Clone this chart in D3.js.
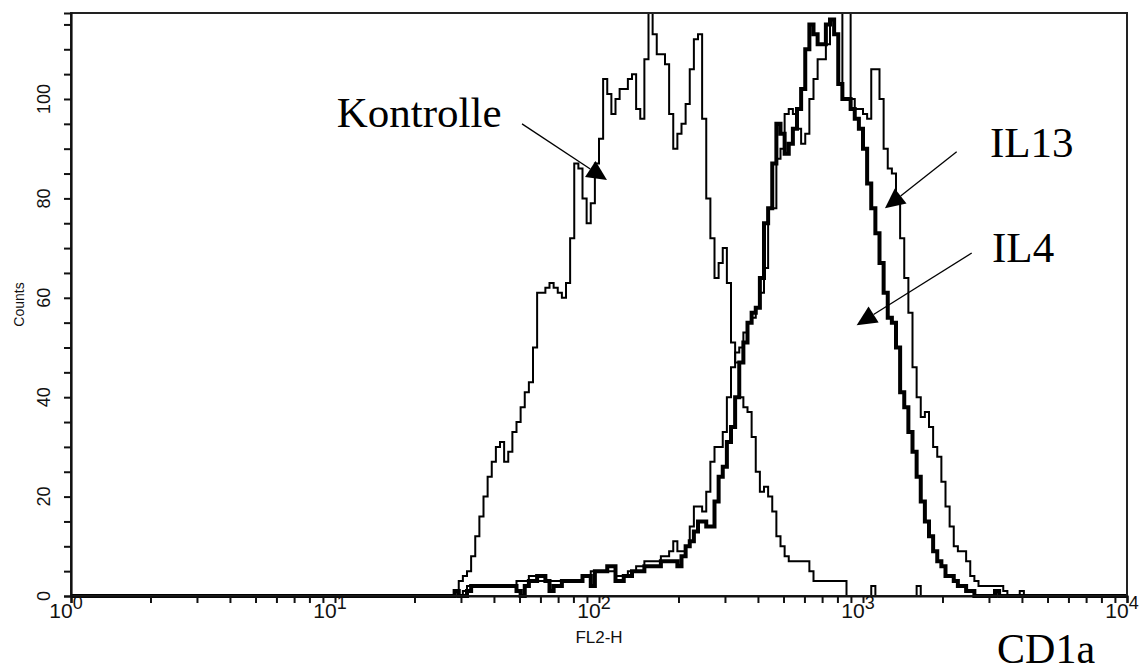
<!DOCTYPE html>
<html><head><meta charset="utf-8">
<script src="https://cdn.jsdelivr.net/npm/d3@7"></script>
<style>body{margin:0;background:#fff}svg{display:block}</style>
</head><body><svg id="c" width="1147" height="672"></svg>
<script>
// ---- data (256-channel log histogram, channels 92..231 listed; others are 0) ----
const firstChannel = 92;
const channelsPerDecade = 64;
const totalChannels = 256;
const kontrolle = [0,1,3,4,5,8,12,16,20,24,27,30,31,27,29,33,35,38,41,43,
  50,61,61,62,63,62,61,60,63,72,87,86,80,75,79,87,92,104,101,97,
  100,102,102,104,105,98,96,108,118,113,109,109,107,97,90,93,95,99,106,112,
  113,96,80,72,64,67,70,63,51,47,40,38,37,32,25,21,22,20,17,12,
  10,8,7,7,7,7,7,5,3,3,3,3,3,3,3,3,0,0,0,0,
  0,0,2,0,0,0,0,0,0,0,0,0,0,2,0,0,0,0,0,0,
  0,0,0,0,0,0,0,0,0,0,0,0,0,0,0,0,0,0,0,0];
const il13 = [0,1,0,1,2,2,2,2,2,2,2,2,2,2,2,2,3,3,3,4,
  4,3,3,3,3,3,3,3,3,3,3,3,4,4,5,5,5,5,5,5,
  4,4,4,5,5,6,6,7,7,7,7,8,8,9,11,9,9,10,14,18,
  18,17,21,27,30,30,33,40,46,49,50,53,55,56,58,61,66,78,78,88,
  90,97,98,97,94,91,93,100,104,108,108,111,116,113,103,118,118,100,98,98,
  97,96,106,106,100,90,86,85,80,72,64,57,46,40,36,37,34,30,28,23,
  18,14,10,9,9,7,4,3,2,2,2,2,2,2,1,0,0,0,1,0];
const il4 = [0,1,0,0,1,2,2,2,2,2,2,2,2,2,2,2,1,0,2,3,
  3,4,4,3,1,2,2,3,3,3,3,3,4,4,2,5,5,5,6,6,
  3,3,4,4,5,5,5,6,6,6,6,7,7,7,7,6,8,10,11,13,
  15,15,14,14,19,24,26,31,34,40,47,51,55,57,58,64,75,78,87,95,
  93,89,91,94,98,102,110,115,113,111,111,115,116,113,103,100,100,98,96,94,
  90,83,78,73,67,61,56,55,50,41,38,33,29,24,19,15,12,9,7,6,
  4,4,3,2,2,1,1,0,0,0,0,0,1,0,0,0,0,0,0,0];
const seriesNames = ["Kontrolle", "IL13", "IL4"];
const xDecades = [0, 1, 2, 3, 4];
const yTickLabels = [0, 20, 40, 60, 80, 100];
const yMinorStep = 5;
const yMax = 117.3;
const xTitle = "FL2-H";
const yTitle = "Counts";
const markerTitle = "CD1a";

// ---- layout ----
const L = 71, R = 1127, T = 13, B = 596;
const svg = d3.select("#c");
const x = d3.scaleLog().domain([1, 10000]).range([L, R]);
const y = d3.scaleLinear().domain([0, yMax]).range([B, T]);
const sans = "'Liberation Sans', Arial, Helvetica, sans-serif";
const serif = "'Liberation Serif', 'Times New Roman', Times, serif";

svg.append("defs").append("clipPath").attr("id", "plot")
  .append("rect").attr("x", L).attr("y", T).attr("width", R - L).attr("height", B - T + 2);

function points(counts) {
  const pts = [];
  for (let i = 0; i < totalChannels; i++) {
    const j = i - firstChannel;
    const c = (j >= 0 && j < counts.length) ? counts[j] : 0;
    pts.push([Math.pow(10, i / channelsPerDecade), c]);
  }
  pts.push([Math.pow(10, totalChannels / channelsPerDecade), pts[pts.length - 1][1]]);
  return pts;
}
const line = d3.line().x(d => x(d[0])).y(d => y(d[1])).curve(d3.curveStepAfter);

const g = svg.append("g").attr("clip-path", "url(#plot)");
const series = [
  {name: seriesNames[0], data: kontrolle, w: 2},
  {name: seriesNames[1], data: il13, w: 2},
  {name: seriesNames[2], data: il4, w: 4}
];
g.selectAll("path.s").data(series).join("path").attr("class", "s")
  .attr("d", d => line(points(d.data)))
  .attr("fill", "none").attr("stroke", "#000")
  .attr("stroke-width", d => d.w).attr("stroke-linejoin", "miter");

// ---- frame ----
svg.append("rect").attr("x", L).attr("y", T).attr("width", R - L).attr("height", B - T)
  .attr("fill", "none").attr("stroke", "#222").attr("stroke-width", 2);

// ---- x axis ----
const xTicks = [];
xDecades.slice(0, -1).forEach(k => { for (let m = 1; m <= 9; m++) xTicks.push(m * Math.pow(10, k)); });
xTicks.push(Math.pow(10, xDecades[xDecades.length - 1]));
const xAxis = d3.axisBottom(x).tickValues(xTicks).tickSize(7).tickFormat("");
const gx = svg.append("g").attr("transform", `translate(0,${B})`).call(xAxis);
gx.select(".domain").attr("stroke", "#111").attr("stroke-width", 2.2);
gx.selectAll(".tick line").attr("stroke", "#111").attr("stroke-width", 2);

const xl = svg.append("g").selectAll("text").data(xDecades).join("text")
  .attr("x", d => x(Math.pow(10, d)) - 5).attr("y", 618)
  .attr("text-anchor", "middle").attr("font-family", sans).attr("font-size", 21).attr("fill", "#111");
xl.append("tspan").text("10");
xl.append("tspan").attr("dy", -9).attr("font-size", 18).text(d => d);

svg.append("text").attr("x", x(100)).attr("y", 643).attr("text-anchor", "middle")
  .attr("font-family", sans).attr("font-size", 17).attr("fill", "#111").text(xTitle);

// ---- y axis ----
const yAxis = d3.axisLeft(y).tickValues(d3.range(0, yMax, yMinorStep)).tickSize(7).tickFormat("");
const gy = svg.append("g").attr("transform", `translate(${L},0)`).call(yAxis);
gy.select(".domain").attr("stroke", "#111").attr("stroke-width", 2.2);
gy.selectAll(".tick line").attr("stroke", "#111").attr("stroke-width", 2);

svg.append("g").selectAll("text").data(yTickLabels).join("text")
  .attr("transform", d => `translate(50,${y(d)}) rotate(-90)`)
  .attr("text-anchor", "middle").attr("font-family", sans).attr("font-size", 18).attr("fill", "#111")
  .text(d => d);

svg.append("text").attr("transform", `translate(24,${(T + B) / 2}) rotate(-90)`)
  .attr("text-anchor", "middle").attr("font-family", sans).attr("font-size", 14).attr("fill", "#111")
  .text(yTitle);

// ---- annotations (anchored in data units) ----
const notes = [
  {label: seriesNames[0], tx: 10.15, ty: 94.4, from: [51.1, 95.0], to: [107.2, 83.7]},
  {label: seriesNames[1], tx: 3027, ty: 88.3, from: [2264, 89.4], to: [1211, 78.0]},
  {label: seriesNames[2], tx: 3082, ty: 67.2, from: [2581, 69.0], to: [946, 54.5]}
];
notes.forEach(n => {
  svg.append("text").attr("x", x(n.tx)).attr("y", y(n.ty))
    .attr("font-family", serif).attr("font-size", 43).attr("fill", "#000").text(n.label);
  const x1 = x(n.from[0]), y1 = y(n.from[1]), x2 = x(n.to[0]), y2 = y(n.to[1]);
  const dx = x2 - x1, dy = y2 - y1, len = Math.hypot(dx, dy);
  const ux = dx / len, uy = dy / len, hl = 20, hw = 9.5;
  const bx = x2 - ux * hl, by = y2 - uy * hl;
  svg.append("line").attr("x1", x1).attr("y1", y1).attr("x2", bx).attr("y2", by)
    .attr("stroke", "#000").attr("stroke-width", 1.3);
  svg.append("path")
    .attr("d", `M${x2},${y2}L${bx - uy * hw},${by + ux * hw}L${bx + uy * hw},${by - ux * hw}Z`)
    .attr("fill", "#000");
});

svg.append("text").attr("x", x(3220)).attr("y", 663)
  .attr("font-family", serif).attr("font-size", 42).attr("fill", "#000").text(markerTitle);
</script>
</body></html>
